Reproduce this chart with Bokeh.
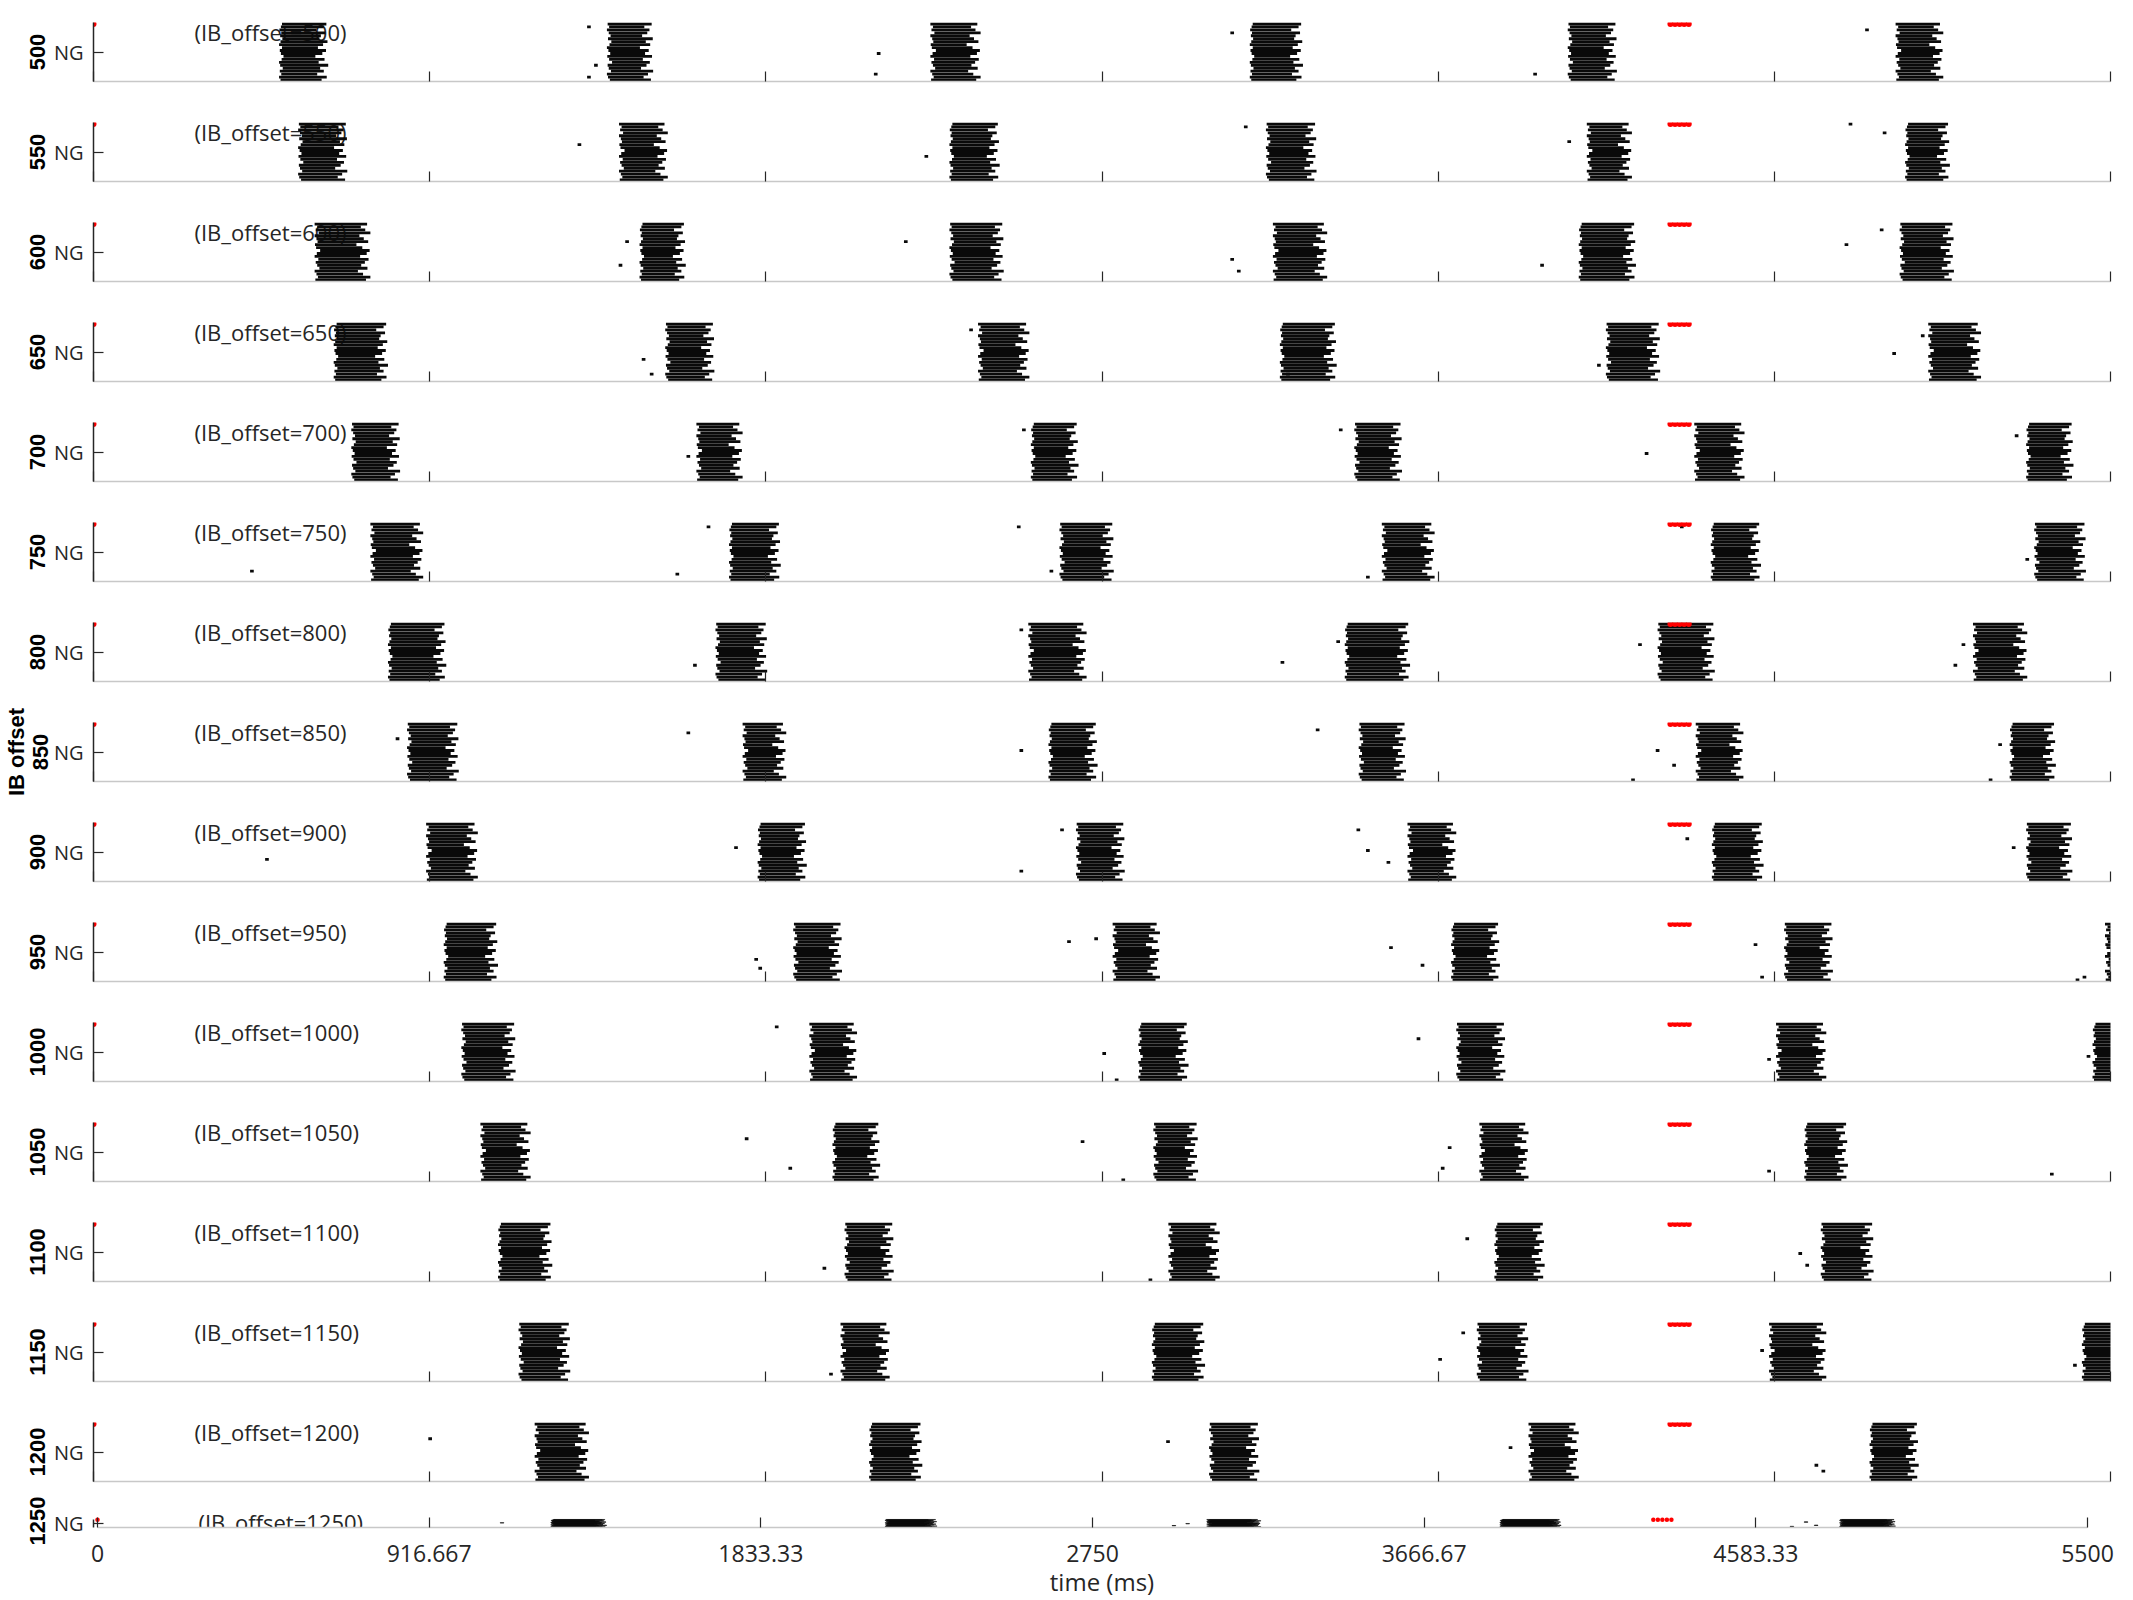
from bokeh.plotting import figure
from bokeh.layouts import column
from bokeh.models import Range1d, FixedTicker
from bokeh.core.properties import value
from bokeh.embed import file_html
from bokeh.resources import INLINE

# ---------------- data ----------------
ib_offsets = [500, 550, 600, 650, 700, 750, 800, 850, 900, 950, 1000, 1050, 1100, 1150, 1200, 1250]
x_ticks = [0, 916.667, 1833.33, 2750, 3666.67, 4583.33, 5500]
x_tick_labels = ["0", "916.667", "1833.33", "2750", "3666.67", "4583.33", "5500"]
n_neurons = 20

# burst onset / end times (ms) per panel
burst_starts = [
    [506, 1400, 2282, 3153, 4020, 4914],
    [558, 1433, 2334, 3197, 4072, 4940],
    [603, 1489, 2334, 3216, 4050, 4925],
    [655, 1559, 2412, 3235, 4124, 5003],
    [703, 1644, 2556, 3438, 4365, 5270],
    [755, 1733, 2634, 3513, 4410, 5292],
    [803, 1696, 2549, 3412, 4265, 5125],
    [855, 1770, 2604, 3450, 4369, 5225],
    [907, 1811, 2679, 3583, 4413, 5270],
    [955, 1908, 2779, 3702, 4610, 5485],
    [1003, 1952, 2849, 3716, 4588, 5451],
    [1055, 2015, 2890, 3779, 4665],
    [1103, 2048, 2931, 3820, 4710],
    [1159, 2037, 2886, 3772, 4569, 5422],
    [1203, 2115, 3042, 3913, 4843],
    [1253, 2177, 3066, 3876, 4815],
]
burst_ends = [
    [640, 1526, 2419, 3298, 4154, 5044],
    [692, 1566, 2471, 3335, 4195, 5062],
    [755, 1615, 2482, 3364, 4206, 5073],
    [803, 1693, 2552, 3390, 4272, 5147],
    [836, 1770, 2686, 3568, 4502, 5399],
    [899, 1874, 2782, 3657, 4547, 5433],
    [962, 1837, 2708, 3590, 4421, 5273],
    [996, 1889, 2738, 3579, 4499, 5351],
    [1048, 1945, 2812, 3716, 4554, 5396],
    [1103, 2041, 2908, 3835, 4743, 5560],
    [1151, 2082, 2986, 3850, 4725, 5560],
    [1192, 2145, 3012, 3913, 4784],
    [1251, 2182, 3071, 3957, 4854],
    [1300, 2171, 3031, 3913, 4725, 5560],
    [1351, 2260, 3179, 4050, 4977],
    [1407, 2320, 3215, 4045, 4969],
]

# ragged edges of a burst, per neuron (bottom -> top): late start (ms) and early stop (ms)
left_lag_a = [4, 0, 6, 2, 10, 3, 0, 7, 12, 5, 2, 8, 0, 4, 9, 3, 6, 1, 5, 8]
right_gap_a = [18, 4, 30, 12, 22, 0, 26, 10, 35, 16, 6, 28, 14, 2, 24, 20, 8, 32, 12, 5]
left_lag_b = [8, 3, 0, 11, 5, 2, 14, 6, 1, 9, 4, 0, 7, 12, 3, 10, 5, 0, 6, 2]
right_gap_b = [6, 26, 14, 0, 33, 18, 9, 28, 3, 22, 12, 36, 8, 20, 1, 30, 16, 10, 24, 4]
left_lag_c = [2, 9, 5, 0, 13, 7, 3, 10, 0, 6, 15, 4, 1, 8, 5, 0, 11, 3, 7, 0]
right_gap_c = [12, 0, 20, 34, 8, 25, 15, 5, 28, 10, 2, 22, 38, 6, 18, 30, 0, 14, 26, 9]
left_lags = [left_lag_a, left_lag_b, left_lag_c]
right_gaps = [right_gap_a, right_gap_b, right_gap_c]

# isolated spikes: (panel index, time ms, neuron)
stray_spikes = [
    (0, 1351, 19), (0, 1370, 6), (0, 1351, 2), (0, 2141, 10), (0, 2133, 3), (0, 3105, 17), (0, 3931, 3), (0, 4836, 18),
    (1, 1325, 13), (1, 2271, 9), (1, 3142, 19), (1, 4024, 14), (1, 4791, 20), (1, 4884, 17),
    (2, 1455, 14), (2, 1437, 6), (2, 2215, 14), (2, 3105, 8), (2, 3123, 4), (2, 3950, 6), (2, 4780, 13), (2, 4876, 18),
    (3, 1500, 8), (3, 1522, 3), (3, 2393, 18), (3, 3257, 3), (3, 4105, 6), (3, 4910, 10), (3, 4988, 16),
    (4, 1622, 9), (4, 2537, 18), (4, 3401, 18), (4, 4235, 10), (4, 5244, 16),
    (5, 432, 4), (5, 1592, 3), (5, 1677, 19), (5, 2523, 19), (5, 2612, 4), (5, 3475, 2), (5, 4331, 19), (5, 5273, 8),
    (6, 1640, 6), (6, 2530, 18), (6, 3242, 7), (6, 3394, 14), (6, 4217, 13), (6, 5077, 6), (6, 5099, 13),
    (7, 829, 15), (7, 1622, 17), (7, 2530, 11), (7, 3338, 18), (7, 4198, 1), (7, 4265, 11), (7, 4310, 6), (7, 5173, 1), (7, 5199, 13),
    (8, 473, 8), (8, 1752, 12), (8, 2530, 4), (8, 2641, 18), (8, 3449, 18), (8, 3475, 11), (8, 3531, 7), (8, 4346, 15), (8, 5236, 12),
    (9, 1807, 8), (9, 1818, 5), (9, 2660, 14), (9, 2734, 15), (9, 3538, 12), (9, 3624, 6), (9, 4532, 13), (9, 4550, 2), (9, 5429, 2), (9, 5410, 1),
    (10, 1863, 19), (10, 2756, 10), (10, 2790, 1), (10, 3613, 15), (10, 4569, 8), (10, 5440, 9),
    (11, 1781, 15), (11, 1900, 5), (11, 2697, 14), (11, 2808, 1), (11, 3698, 12), (11, 3679, 5), (11, 4569, 4), (11, 5340, 3),
    (12, 1993, 5), (12, 2882, 1), (12, 3746, 15), (12, 4673, 6), (12, 4654, 10),
    (13, 2011, 3), (13, 3672, 8), (13, 3735, 17), (13, 4550, 11), (13, 5403, 6),
    (14, 918, 15), (14, 2930, 14), (14, 3864, 12), (14, 4698, 6), (14, 4717, 4),
    (15, 1118, 12), (15, 2975, 5), (15, 3013, 10), (15, 4683, 3), (15, 4722, 14), (15, 4750, 6),
]

# red input markers on the top neuron
input_times_start = [0]
input_times_pulse = [4300, 4312.5, 4325, 4337.5, 4350]

# ---------------- drawing ----------------
FONT = "Open Sans"
BOLD_FONT = "Liberation Sans"
TXT = "#262626"
W = 2133
FRAME_L, FRAME_R = 92, 2110          # shared frame edges (column aligns frames)
figs = []
n_panels = len(ib_offsets)

for i, ib in enumerate(ib_offsets):
    last = (i == n_panels - 1)
    if last:
        H, ft, fb, rows_top = 110, 24, 45, 32   # local px in this figure
        x0px, x1px = 96, 2087                    # where 0 and 5500 ms fall
    elif i == n_panels - 2:
        H, ft, fb, rows_top = 90, 22, 81, 22
        x0px, x1px = 92, 2110
    else:
        H, ft, fb, rows_top = 100, 22, 81, 22
        x0px, x1px = 92, 2110
    px_per_unit = (fb - rows_top) / n_neurons
    y_top = 0.5 + (fb - ft) / px_per_unit
    xscale = (x1px - x0px) / 5500.0
    x_start = -(x0px - FRAME_L) / xscale
    x_end = 5500 + (FRAME_R - x1px) / xscale
    p = figure(width=W, height=H, output_backend="svg", toolbar_location=None,
               x_range=Range1d(x_start, x_end), y_range=Range1d(0.5, y_top),
               min_border_left=FRAME_L, min_border_right=W - FRAME_R,
               min_border_top=ft, min_border_bottom=H - fb)
    p.outline_line_color = None
    p.xgrid.visible = False
    p.ygrid.visible = False
    p.background_fill_color = "white"
    p.border_fill_color = "white"

    def dx(px):
        return (px - x0px) / xscale

    def dy(py):
        return 0.5 + (fb - py) / px_per_unit

    # panel caption (under the spikes)
    cap_x = dx(193 if not last else 197)
    cap_y = dy(31 if not last else 35.5)
    p.text(x=[cap_x], y=[cap_y], text=["(IB_offset=%d)" % ib], text_font=value(FONT),
           text_font_size="22px", text_color=TXT, text_baseline="middle", text_align="left")

    # bursts
    L, R, B, T = [], [], [], []
    for j, (s, e) in enumerate(zip(burst_starts[i], burst_ends[i])):
        k = (i + j) % 3
        for n in range(n_neurons):
            L.append(s + left_lags[k][n])
            R.append(e - right_gaps[k][n])
            B.append(n + 1 - 0.49)
            T.append(n + 1 + 0.49)
    for (pi, t, n) in stray_spikes:
        if pi == i:
            L.append(t - 5)
            R.append(t + 5)
            B.append(n - 0.49)
            T.append(n + 0.49)
    if last:
        p.quad(left=L, right=R, bottom=B, top=T, fill_color="#0a0a0a",
               line_color="#0a0a0a", line_width=0.6)
    else:
        p.quad(left=L, right=R, bottom=B, top=T, fill_color="#0a0a0a", line_color=None)

    # inputs (red)
    red_size = 6 if not last else 4.5
    p.scatter(x=input_times_start, y=[n_neurons] * len(input_times_start), size=red_size,
              fill_color="red", line_color=None)
    p.scatter(x=input_times_pulse, y=[n_neurons] * len(input_times_pulse), size=red_size,
              fill_color="red", line_color=None)

    # x axis
    xa = p.xaxis[0]
    xa.ticker = FixedTicker(ticks=x_ticks)
    xa.bounds = (0, 5500)
    xa.axis_line_color = "#c8c8c8"
    xa.axis_line_width = 1.5
    xa.major_tick_in = 10
    xa.major_tick_out = 0
    xa.major_tick_line_color = TXT
    xa.major_tick_line_width = 1.2
    xa.minor_tick_line_color = None
    if last:
        xa.major_label_overrides = {t: lab for t, lab in zip(x_ticks, x_tick_labels)}
        xa.major_label_text_font = FONT
        xa.major_label_text_font_size = "23px"
        xa.major_label_text_color = TXT
        xa.major_label_standoff = 17
        xa.axis_label = "time (ms)"
        xa.axis_label_text_font = FONT
        xa.axis_label_text_font_size = "24px"
        xa.axis_label_text_font_style = "normal"
        xa.axis_label_text_color = TXT
        xa.axis_label_standoff = 0
    else:
        xa.major_label_text_font_size = "1px"
        xa.major_label_text_color = None
        xa.major_label_standoff = 0

    # y axis
    ya = p.yaxis[0]
    ya.ticker = FixedTicker(ticks=[10.5])
    ya.bounds = (0.5, n_neurons + 0.5)
    ya.major_label_overrides = {10.5: "NG"}
    ya.major_label_text_font = FONT
    ya.major_label_text_font_size = "20px"
    ya.major_label_text_color = TXT
    ya.major_label_standoff = 10
    ya.axis_line_color = TXT
    ya.axis_line_width = 1.5
    ya.major_tick_in = 10
    ya.major_tick_out = 0
    ya.major_tick_line_color = TXT
    ya.major_tick_line_width = 1.2
    ya.minor_tick_line_color = None
    ya.axis_label = ("IB offset\n%d" % ib) if i == 7 else str(ib)
    ya.axis_label_text_font = BOLD_FONT
    ya.axis_label_text_font_size = "22px"
    ya.axis_label_text_font_style = "bold"
    ya.axis_label_text_color = "black"
    ya.axis_label_text_line_height = 0.965
    ya.axis_label_standoff = -2 if i == 7 else 6

    figs.append(p)

layout = column(*figs, spacing=0)
open("out.html", "w").write(file_html(layout, INLINE))
